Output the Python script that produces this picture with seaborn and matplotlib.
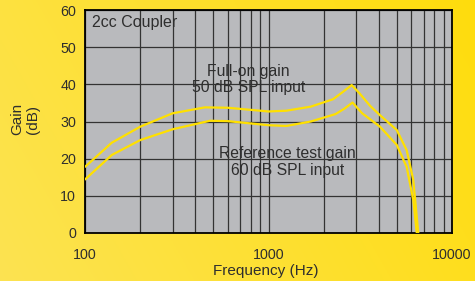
import numpy as np
import pandas as pd
import matplotlib
matplotlib.use("Agg")
import matplotlib.pyplot as plt
import seaborn as sns
from matplotlib.ticker import FixedLocator, NullFormatter

# ---- data ----
freq_full = [100, 140, 200, 300, 450, 600, 1000, 1250, 1700, 2250, 2550, 2840, 3130, 3580, 4050, 5000, 5660, 6150, 6550]
gain_full = [17.8, 24.3, 28.6, 32.2, 33.8, 33.7, 32.7, 32.9, 34.0, 36.0, 38.0, 39.8, 37.6, 34.2, 31.7, 27.7, 22.3, 14.3, 0.0]
freq_ref = [100, 140, 200, 300, 480, 600, 1000, 1250, 1700, 2320, 2600, 2870, 3240, 4050, 5000, 5660, 6150, 6430]
gain_ref = [14.4, 21.0, 25.0, 27.9, 30.2, 30.1, 29.0, 28.8, 30.0, 32.0, 33.5, 35.1, 32.2, 28.6, 23.7, 17.8, 8.9, 0.0]
x_ticks = [100, 1000, 10000]
x_ticklabels = ["100", "1000", "10000"]
y_ticks = [0, 10, 20, 30, 40, 50, 60]

sns.set_theme(style="white")
plt.rcParams['font.family'] = ['Liberation Sans', 'DejaVu Sans']

fig = plt.figure(figsize=(4.75, 2.81), dpi=100)
# yellow gradient background
bg = fig.add_axes([0, 0, 1, 1], zorder=-10)
nx, ny = 200, 120
xx, yy = np.meshgrid(np.linspace(0, 1, nx), np.linspace(0, 1, ny))
t = np.clip(0.75 * xx + 0.25 * yy, 0, 1)
c0 = np.array([0.99, 0.89, 0.32])
c1 = np.array([1.0, 0.865, 0.05])
img = c0[None, None, :] * (1 - t[..., None]) + c1[None, None, :] * t[..., None]
bg.imshow(img, aspect='auto', extent=[0, 1, 0, 1], origin='lower')
bg.axis('off')

ax = fig.add_axes([85/475, 1 - 233/281, 367/475, 223/281])
ax.set_facecolor('#b9babd')

df_full = pd.DataFrame({"f": freq_full, "g": gain_full})
df_ref = pd.DataFrame({"f": freq_ref, "g": gain_ref})
sns.lineplot(data=df_full, x="f", y="g", ax=ax, color="#ffe000", lw=1.6, sort=False, estimator=None, zorder=5)
sns.lineplot(data=df_ref, x="f", y="g", ax=ax, color="#ffe000", lw=1.6, sort=False, estimator=None, zorder=5)

ax.set_xscale('log')
ax.set_xlim(100, 10000)
ax.set_ylim(0, 60)
ax.xaxis.set_major_locator(FixedLocator(x_ticks))
ax.set_xticklabels(x_ticklabels)
minor = [m * d for d in (100, 1000) for m in range(2, 10)]
ax.xaxis.set_minor_locator(FixedLocator(minor))
ax.xaxis.set_minor_formatter(NullFormatter())
ax.set_yticks(y_ticks)

ax.grid(True, which='major', axis='both', color='#333333', lw=0.9)
ax.grid(True, which='minor', axis='x', color='#333333', lw=0.9)
ax.set_axisbelow(True)
for s in ax.spines.values():
    s.set_color('black')
    s.set_linewidth(1.3)

txtc = '#2e2e2e'
ax.tick_params(axis='x', which='both', length=0, pad=10.5, labelsize=10.3, labelcolor=txtc)
ax.tick_params(axis='y', which='both', length=0, pad=6.5, labelsize=10.3, labelcolor=txtc)

ax.set_xlabel("Frequency (Hz)", fontsize=11, color=txtc)
ax.xaxis.set_label_coords(0.493, -0.172)
ax.xaxis.label.set_va('center')
ax.set_ylabel("Gain\n(dB)", fontsize=11, color=txtc, linespacing=1.1)
ax.yaxis.set_label_coords(-0.163, 0.511)
ax.yaxis.label.set_va('center')

ax.text(6.7/367, 1 - 13/223, "2cc Coupler", transform=ax.transAxes, fontsize=11.5,
        color=txtc, ha='left', va='center')
ax.text((248.5-85)/367, (233-79.5)/223, "Full-on gain\n50 dB SPL input", transform=ax.transAxes,
        fontsize=11.3, color=txtc, ha='center', va='center', linespacing=1.1)
ax.text((287.5-85)/367, (233-162)/223, "Reference test gain\n60 dB SPL input", transform=ax.transAxes,
        fontsize=11.3, color=txtc, ha='center', va='center', linespacing=1.1)

fig.savefig("out.png", dpi=100)
